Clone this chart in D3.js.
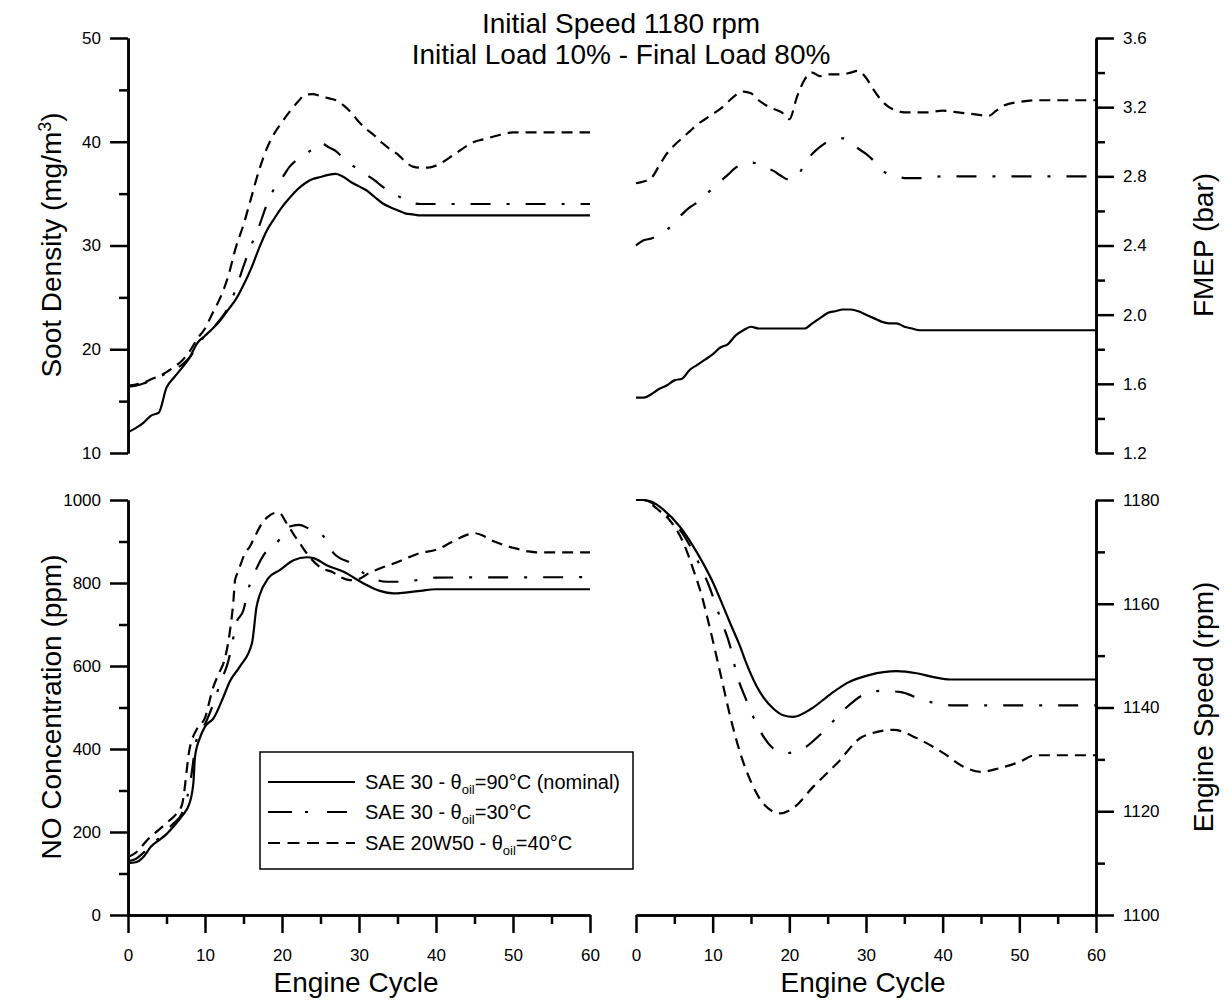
<!DOCTYPE html>
<html>
<head>
<meta charset="utf-8">
<script src="https://cdn.jsdelivr.net/npm/d3@7"></script>
<style>
body { margin: 0; background: #fff; }
svg { display: block; font-family: "Liberation Sans", Arial, sans-serif; }
.axis path, .axis line { stroke: #000; stroke-width: 2.5; }
.axis text { font-family: "Liberation Sans", Arial, sans-serif; font-size: 17px; fill: #000; }
.title { font-size: 28px; fill: #000; }
.legend text { font-size: 20px; fill: #000; }
</style>
</head>
<body>
<svg id="chart" width="1232" height="1003"></svg>
<script>
// [engine cycle, value]
const sootNominal = [[0,12.0],[1,12.4],[2,12.9],[3,13.6],[4,13.9],[5,16.3],[6,17.3],[7,18.2],[8,19.2],[9,20.6],[10,21.3],[11,22.0],[12,22.8],[13,23.8],[14,24.8],[15,26.2],[16,27.8],[17,29.7],[18,31.4],[19,32.6],[20,33.7],[21,34.6],[22,35.4],[23,36.0],[24,36.4],[25,36.6],[26,36.8],[27,36.9],[28,36.6],[29,36.1],[30,35.7],[31,35.3],[32,34.7],[33,34.1],[34,33.7],[35,33.4],[36,33.1],[37,33.0],[38,32.9],[60,32.9]];
const sootCold = [[0,16.4],[1,16.5],[2,16.7],[3,17.0],[4,17.3],[5,17.7],[6,18.1],[7,18.5],[8,19.2],[9,20.3],[10,21.3],[11,22.0],[12,22.9],[13,24.0],[14,25.8],[15,28.0],[16,30.0],[17,31.8],[18,33.9],[19,35.5],[20,36.5],[21,37.6],[22,38.3],[23,38.8],[24,39.3],[25,39.9],[26,39.5],[27,39.1],[28,38.4],[29,37.8],[30,37.3],[31,36.8],[32,36.3],[33,35.7],[34,35.2],[35,34.8],[36,34.4],[37,34.1],[38,34.0],[60,34.0]];
const soot20W50 = [[0,16.5],[1,16.6],[2,16.8],[3,17.1],[4,17.4],[5,17.8],[6,18.3],[7,18.9],[8,19.8],[9,21.0],[10,22.0],[11,23.5],[12,25.0],[13,27.0],[14,29.8],[15,32.0],[16,34.6],[17,37.2],[18,39.3],[19,40.8],[20,41.9],[21,42.9],[22,43.8],[23,44.5],[24,44.6],[25,44.4],[26,44.2],[27,44.0],[28,43.5],[29,42.8],[30,41.9],[31,41.2],[32,40.6],[33,39.9],[34,39.3],[35,38.8],[36,38.1],[37,37.6],[38,37.5],[39,37.5],[40,37.7],[41,38.1],[42,38.6],[43,39.1],[44,39.6],[45,40.0],[46,40.2],[47,40.4],[48,40.6],[49,40.8],[50,40.9],[60,40.9]];

const fmepNominal = [[0,1.52],[1,1.52],[2,1.54],[3,1.57],[4,1.59],[5,1.62],[6,1.63],[7,1.68],[8,1.71],[9,1.74],[10,1.77],[11,1.81],[12,1.83],[13,1.88],[14,1.91],[15,1.93],[16,1.92],[18,1.92],[20,1.92],[22,1.92],[23,1.95],[24,1.98],[25,2.01],[26,2.02],[27,2.03],[28,2.03],[29,2.02],[30,2.00],[31,1.98],[32,1.96],[33,1.95],[34,1.95],[35,1.93],[36,1.92],[37,1.91],[38,1.91],[60,1.91]];
const fmepCold = [[0,2.40],[1,2.43],[2,2.44],[3,2.46],[4,2.49],[5,2.53],[6,2.58],[7,2.62],[8,2.65],[9,2.69],[10,2.73],[11,2.77],[12,2.81],[13,2.85],[14,2.87],[15,2.88],[16,2.87],[17,2.85],[18,2.83],[19,2.80],[20,2.78],[21,2.80],[22,2.87],[23,2.93],[24,2.97],[25,3.00],[26,3.01],[27,3.02],[28,3.00],[29,2.96],[30,2.93],[31,2.89],[32,2.84],[33,2.81],[34,2.80],[35,2.79],[37,2.79],[40,2.80],[60,2.80]];
const fmep20W50 = [[0,2.76],[1,2.77],[2,2.79],[3,2.86],[4,2.93],[5,2.98],[6,3.02],[7,3.06],[8,3.10],[9,3.13],[10,3.16],[11,3.19],[12,3.23],[13,3.27],[14,3.29],[15,3.28],[16,3.24],[17,3.21],[18,3.19],[19,3.17],[20,3.13],[21,3.26],[22,3.36],[23,3.40],[24,3.38],[25,3.39],[26,3.39],[27,3.39],[28,3.40],[29,3.41],[30,3.37],[31,3.30],[32,3.24],[33,3.20],[34,3.18],[35,3.17],[36,3.17],[38,3.17],[40,3.18],[42,3.17],[44,3.16],[46,3.15],[47,3.18],[48,3.21],[50,3.23],[52,3.24],[60,3.24]];

const noNominal = [[0,125],[1,127],[2,140],[3,165],[4,180],[5,195],[6,215],[7,238],[8,270],[8.5,320],[8.7,381],[9.3,425],[10,454],[11.1,474],[12.4,526],[13.2,562],[14.5,598],[16.1,655],[16.7,743],[17.1,771],[18.2,811],[19.7,831],[21.5,855],[23.2,862],[24.1,860],[25.8,843],[28,827],[30.6,799],[32.7,781],[34.5,775],[36,777],[38,781],[40,785],[60,785]];
const noCold = [[0,130],[1,135],[2,150],[3,168],[4,185],[5,205],[6,222],[7,245],[8,310],[9,430],[10,460],[11,505],[12,560],[13,610],[13.5,650],[14,700],[15,735],[15.6,783],[16.5,827],[17.6,867],[19.3,896],[21,936],[22.2,940],[23.4,932],[25.4,912],[26.7,872],[29,847],[31,819],[33.6,803],[35.8,803],[37.9,808],[40,813],[60,814]];
const no20W50 = [[0,140],[1,150],[2,170],[3,190],[4,205],[5,222],[6,238],[7,265],[8,400],[9,450],[10,475],[11,545],[12,590],[12.4,607],[13.2,679],[13.7,759],[13.9,807],[14.3,827],[15.2,872],[15.8,887],[16.7,920],[17.4,944],[18.2,960],[19.2,969],[19.7,968],[20.6,944],[21.7,912],[22.3,896],[23.4,867],[25.2,835],[26.5,827],[27.5,815],[28.8,807],[30,810],[31.4,825],[32.7,835],[34.5,847],[36.6,863],[37.9,872],[40,880],[42,898],[44,916],[45,920],[46,915],[47,905],[48,897],[49,890],[50,885],[51,880],[52,876],[53,874],[60,874]];

const speedNominal = [[0,1180],[1,1180],[2,1179.7],[3.6,1178.1],[5.7,1174.9],[7.9,1170],[10.1,1163.9],[11.4,1159.4],[12.3,1156.2],[13.6,1151.7],[14.4,1148.5],[15.7,1144.2],[16.6,1142],[17.9,1139.8],[19.2,1138.5],[20.5,1138.2],[22.7,1139.6],[25.3,1142.5],[27.5,1144.7],[30.5,1146.3],[34,1147],[36.6,1146.6],[39,1145.8],[41,1145.4],[60,1145.4]];
const speedCold = [[0,1180],[1,1180],[2,1179.5],[4,1177.1],[6.6,1172.3],[8.1,1168.1],[9.4,1163.9],[11,1157.2],[12.3,1151.7],[13.1,1146.6],[14.4,1141.4],[16,1136],[17.9,1132.1],[19.4,1131.2],[21.8,1132.1],[24.4,1135.3],[27.3,1139.8],[29.6,1142.4],[31.8,1143.2],[34.4,1143],[37.5,1141.4],[41.4,1140.4],[60,1140.4]];
const speed20W50 = [[0,1180],[1,1180],[2,1179.2],[3,1178],[4.4,1176.1],[6.2,1171.7],[7.5,1166.5],[8.6,1161.4],[9.7,1154.9],[11,1146.6],[12.3,1138.2],[13.6,1131.2],[14.9,1126],[16.6,1121.5],[18.8,1119.6],[20.5,1120.6],[23.1,1124.7],[26.2,1129.2],[29.6,1134.4],[33.6,1135.7],[36.6,1134.1],[40.1,1131.2],[42.7,1128.6],[45,1127.6],[47.4,1128.3],[50,1129.5],[52.1,1130.8],[60,1130.8]];

const cycleTicks = [0, 10, 20, 30, 40, 50, 60];
const cycleMinor = [5, 15, 25, 35, 45, 55];
const legendParts = [
    ["SAE 30 - θ", "oil", "=90°C (nominal)"],
    ["SAE 30 - θ", "oil", "=30°C"],
    ["SAE 20W50 - θ", "oil", "=40°C"]
];
const dashes = [null, "20,16,3,16", "11,7"];

const svg = d3.select("#chart");

const panels = [
    { x0: 128, x1: 590, top: 38, bottom: 453, domain: [10, 50], major: d3.range(10, 51, 10), minor: d3.range(15, 50, 10), side: "left", fmt: d3.format("d"), xAxis: false, data: [sootNominal, sootCold, soot20W50] },
    { x0: 636, x1: 1096, top: 38, bottom: 453, domain: [1.2, 3.6], major: [1.2, 1.6, 2.0, 2.4, 2.8, 3.2, 3.6], minor: [1.4, 1.8, 2.2, 2.6, 3.0, 3.4], side: "right", fmt: d3.format(".1f"), xAxis: false, data: [fmepNominal, fmepCold, fmep20W50] },
    { x0: 128, x1: 590, top: 500, bottom: 915, domain: [0, 1000], major: d3.range(0, 1001, 200), minor: d3.range(100, 1000, 200), side: "left", fmt: d3.format("d"), xAxis: true, data: [noNominal, noCold, no20W50] },
    { x0: 636, x1: 1096, top: 500, bottom: 915, domain: [1100, 1180], major: d3.range(1100, 1181, 20), minor: d3.range(1110, 1180, 20), side: "right", fmt: d3.format("d"), xAxis: true, data: [speedNominal, speedCold, speed20W50] }
];

panels.forEach(p => {
    const x = d3.scaleLinear().domain([0, 60]).range([p.x0, p.x1]);
    const y = d3.scaleLinear().domain(p.domain).range([p.bottom, p.top]);
    const axisX = p.side === "left" ? p.x0 : p.x1;
    const mk = p.side === "left" ? d3.axisLeft : d3.axisRight;

    svg.append("g").attr("class", "axis")
        .attr("transform", `translate(${axisX},0)`)
        .call(mk(y).tickValues(p.minor).tickSize(9).tickSizeOuter(0).tickFormat(""));
    svg.append("g").attr("class", "axis")
        .attr("transform", `translate(${axisX},0)`)
        .call(mk(y).tickValues(p.major).tickSize(18).tickSizeOuter(0).tickPadding(9).tickFormat(p.fmt));

    if (p.xAxis) {
        svg.append("g").attr("class", "axis")
            .attr("transform", `translate(0,${p.bottom})`)
            .call(d3.axisBottom(x).tickValues(cycleMinor).tickSize(9).tickSizeOuter(0).tickFormat(""));
        svg.append("g").attr("class", "axis")
            .attr("transform", `translate(0,${p.bottom})`)
            .call(d3.axisBottom(x).tickValues(cycleTicks).tickSize(18).tickSizeOuter(0).tickPadding(16));
        svg.append("text").attr("class", "title")
            .attr("x", (p.x0 + p.x1) / 2 - 3).attr("y", 992)
            .attr("text-anchor", "middle").text("Engine Cycle");
    }

    const line = d3.line().x(d => x(d[0])).y(d => y(d[1])).curve(d3.curveMonotoneX);
    p.data.forEach((s, i) => {
        svg.append("path").datum(s)
            .attr("d", line)
            .attr("fill", "none")
            .attr("stroke", "#000")
            .attr("stroke-width", 2.2)
            .attr("stroke-dasharray", dashes[i]);
    });
});

// axis titles
function yTitle(cx, cy, parts) {
    const t = svg.append("text").attr("class", "title")
        .attr("transform", `translate(${cx},${cy}) rotate(-90)`)
        .attr("text-anchor", "middle");
    parts.forEach(pt => {
        const ts = t.append("tspan").text(pt.t);
        if (pt.dy) ts.attr("dy", pt.dy);
        if (pt.size) ts.style("font-size", pt.size);
    });
}
yTitle(61, 245, [{ t: "Soot Density (mg/m" }, { t: "3", dy: -10, size: "18px" }, { t: ")", dy: 10 }]);
yTitle(61, 707, [{ t: "NO Concentration (ppm)" }]);
yTitle(1213, 245, [{ t: "FMEP (bar)" }]);
yTitle(1213, 707, [{ t: "Engine Speed (rpm)" }]);

// chart title
svg.append("text").attr("class", "title").attr("x", 621).attr("y", 33)
    .attr("text-anchor", "middle").text("Initial Speed 1180 rpm");
svg.append("text").attr("class", "title").attr("x", 621).attr("y", 64)
    .attr("text-anchor", "middle").text("Initial Load 10% - Final Load 80%");

// legend
const lg = svg.append("g").attr("class", "legend");
lg.append("rect").attr("x", 260).attr("y", 752).attr("width", 373).attr("height", 117)
    .attr("fill", "#fff").attr("stroke", "#000").attr("stroke-width", 1.5);
const rowY = [782, 812, 843];
const legendDash = [null, "24,13,3,19", "12,7.5"];
const legendEnd = [355, 347, 355];
legendParts.forEach((parts, i) => {
    lg.append("line").attr("x1", 268).attr("x2", legendEnd[i])
        .attr("y1", rowY[i]).attr("y2", rowY[i])
        .attr("stroke", "#000").attr("stroke-width", 2.2)
        .attr("stroke-dasharray", legendDash[i]);
    const t = lg.append("text").attr("x", 365).attr("y", rowY[i] + 7);
    t.append("tspan").text(parts[0]);
    t.append("tspan").attr("dy", 5).style("font-size", "13px").text(parts[1]);
    t.append("tspan").attr("dy", -5).text(parts[2]);
});
</script>
</body>
</html>
